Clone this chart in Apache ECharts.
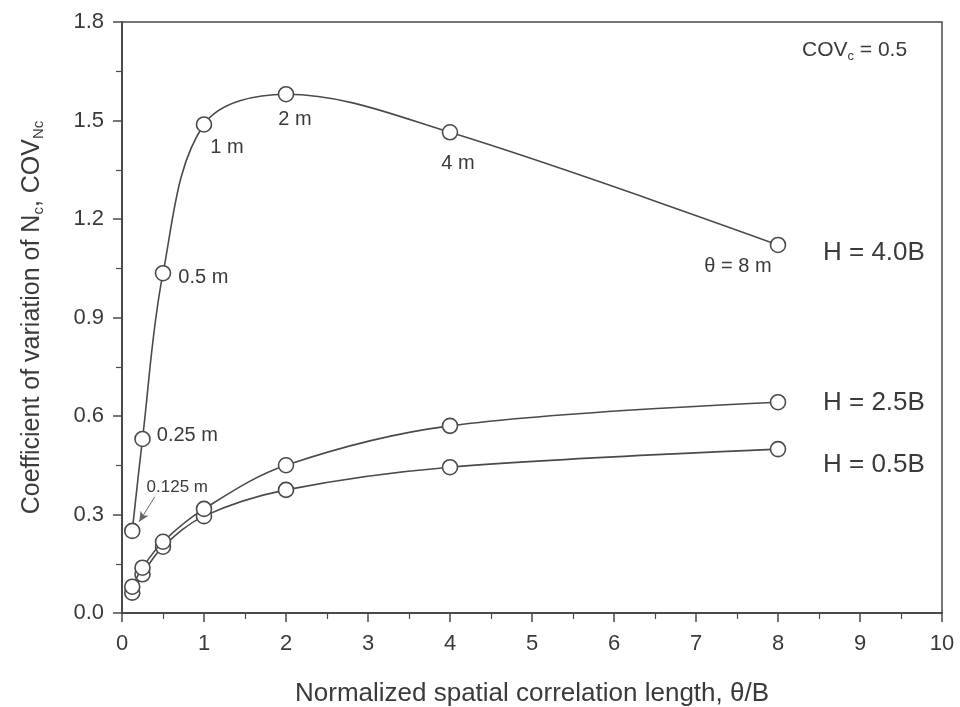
<!DOCTYPE html>
<html>
<head>
<meta charset="utf-8">
<script src="https://cdn.jsdelivr.net/npm/echarts@6/dist/echarts.min.js"></script>
<style>
  html, body { margin: 0; padding: 0; background: #fff; }
  #chart { width: 960px; height: 707px; }
</style>
</head>
<body>
<div id="chart"></div>
<script>
// normalized correlation length theta/B
const thetaB = [0.125, 0.25, 0.5, 1, 2, 4, 8];
// COV of Nc for each footing depth ratio
const covH40 = [0.25, 0.53, 1.035, 1.488, 1.58, 1.464, 1.121];
const covH25 = [0.08, 0.138, 0.217, 0.317, 0.45, 0.57, 0.642];
const covH05 = [0.062, 0.118, 0.202, 0.295, 0.375, 0.444, 0.499];
const pointLabels = ['0.125 m', '0.25 m', '0.5 m', '1 m', '2 m', '4 m', 'θ = 8 m'];
const seriesNames = ['H = 4.0B', 'H = 2.5B', 'H = 0.5B'];

const FONT = 'Liberation Sans, Arial, sans-serif';
const INK = '#3a3a3a';
const LINE = '#4a4a4a';

// label placement for the H = 4.0B points (dx, dy from default right position)
const labelOffsets = [[1, -44], [1, -3], [2, 4], [-7, 23], [-21, 25], [-22, 31], [-87, 22]];
const endOffsets = [[45, 8], [45, 1], [45, 16]];

function toPairs(ys) {
  return thetaB.map((x, i) => [x, ys[i]]);
}

function makeSeries(name, ys, idx) {
  let s = {
    name: name,
    type: 'line',
    smooth: 0.35,
    symbol: 'circle',
    symbolSize: 15,
    itemStyle: {color: '#fff', borderColor: LINE, borderWidth: 1.6},
    lineStyle: {color: LINE, width: 1.6},
    z: 3 - idx,
    data: toPairs(ys),
    endLabel: {
      show: true,
      formatter: name,
      distance: 0,
      offset: endOffsets[idx],
      fontFamily: FONT,
      fontSize: 26,
      color: INK,
    },
  };
  return s;
}

let series = [
  makeSeries(seriesNames[0], covH40, 0),
  makeSeries(seriesNames[1], covH25, 1),
  makeSeries(seriesNames[2], covH05, 2),
];

// annotate the H = 4.0B points with theta
series[0].data = toPairs(covH40).map((p, i) => ({
  value: p,
  label: {
    show: true,
    position: 'right',
    distance: 5,
    formatter: pointLabels[i],
    offset: labelOffsets[i],
    fontFamily: FONT,
    fontSize: i === 0 ? 17 : 20,
    color: INK,
  },
}));
series[0].markLine = {
  silent: true,
  symbol: ['none', 'arrow'],
  symbolSize: [7, 10],
  label: {show: false},
  lineStyle: {color: '#666', width: 1, type: 'solid'},
  data: [[{coord: [0.40, 0.354]}, {coord: [0.21, 0.278]}]],
};

let chart = echarts.init(document.getElementById('chart'));
chart.setOption({
  animation: false,
  textStyle: {fontFamily: FONT, color: INK},
  grid: {
    left: 122,
    right: 18,
    top: 22,
    bottom: 94,
    outerBoundsMode: 'none',
    show: true,
    borderColor: LINE,
    borderWidth: 1.5,
  },
  xAxis: {
    type: 'value',
    min: 0,
    max: 10,
    interval: 1,
    name: 'Normalized spatial correlation length, θ/B',
    nameLocation: 'middle',
    nameGap: 68,
    nameTextStyle: {fontFamily: FONT, fontSize: 26, color: INK},
    axisLine: {onZero: false, lineStyle: {color: LINE, width: 2}},
    axisTick: {show: true, length: 9, lineStyle: {color: LINE, width: 1.5}},
    minorTick: {show: true, splitNumber: 2, length: 6, lineStyle: {color: LINE, width: 1.2}},
    axisLabel: {fontFamily: FONT, fontSize: 22, color: INK, margin: 20},
    splitLine: {show: false},
  },
  yAxis: {
    type: 'value',
    min: 0,
    max: 1.8,
    interval: 0.3,
    name: 'Coefficient of variation of N{s|c}, COV{s|Nc}',
    nameLocation: 'middle',
    nameGap: 76,
    nameTextStyle: {
      fontFamily: FONT,
      fontSize: 25,
      color: INK,
      rich: {
        s: {fontFamily: FONT, fontSize: 15, color: INK, padding: [12, 0, 0, 0]},
      },
    },
    axisLine: {onZero: false, lineStyle: {color: LINE, width: 2}},
    axisTick: {show: true, length: 9, lineStyle: {color: LINE, width: 1.5}},
    minorTick: {show: true, splitNumber: 2, length: 6, lineStyle: {color: LINE, width: 1.2}},
    axisLabel: {
      fontFamily: FONT,
      fontSize: 22,
      color: INK,
      margin: 18,
      formatter: (v) => v.toFixed(1),
    },
    splitLine: {show: false},
  },
  graphic: [{
    type: 'text',
    left: 802,
    top: 40,
    style: {
      text: 'COV{c|c} = 0.5',
      fontFamily: FONT,
      fontSize: 21,
      fill: INK,
      rich: {
        c: {fontFamily: FONT, fontSize: 13, fill: INK, padding: [12, 0, 0, 0]},
      },
    },
  }],
  series: series,
});
</script>
</body>
</html>
